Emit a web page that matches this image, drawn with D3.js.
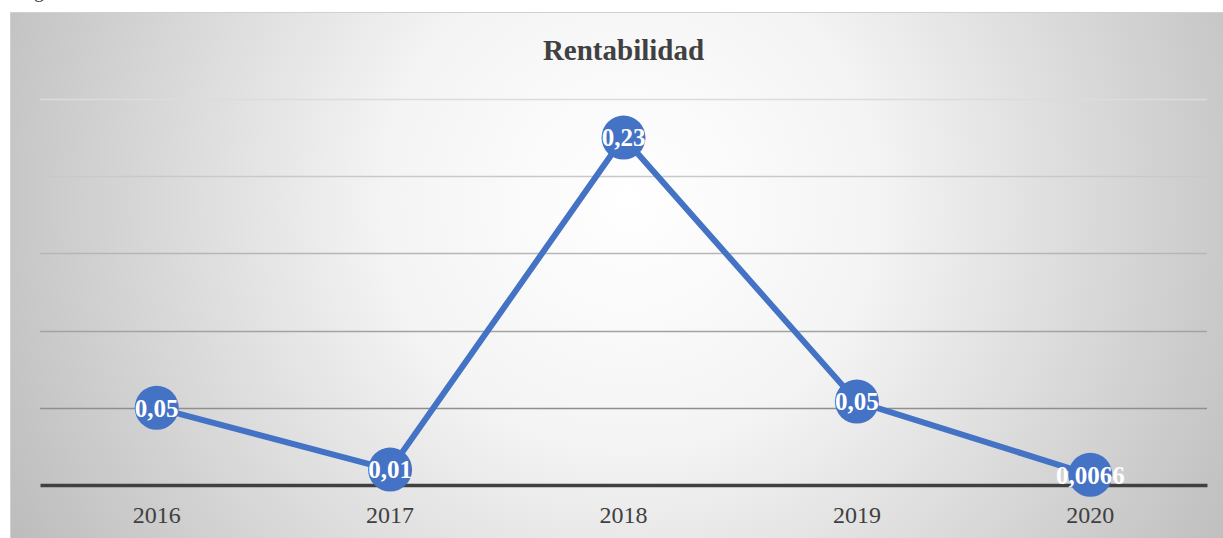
<!DOCTYPE html>
<html><head><meta charset="utf-8">
<script src="https://cdn.jsdelivr.net/npm/d3@7"></script>
<style>html,body{margin:0;padding:0;background:#fff;overflow:hidden}</style>
</head><body>
<svg id="c" width="1223" height="538"></svg>
<script>
const categories = ["2016","2017","2018","2019","2020"];
const values = [0.05, 0.01, 0.225, 0.054, 0.0066];
const labels = ["0,05","0,01","0,23","0,05","0,0066"];
const yTicks = [0, 0.05, 0.10, 0.15, 0.20, 0.25];
const title = "Rentabilidad";

const FONT = "'Liberation Serif', 'Times New Roman', serif";
const svg = d3.select("#c");
const W = 1223, H = 538;
const defs = svg.append("defs");
const rg = defs.append("radialGradient").attr("id","bg")
  .attr("gradientUnits","userSpaceOnUse")
  .attr("cx",630).attr("cy",200).attr("r",700)
  .attr("fx",630).attr("fy",200);
rg.append("stop").attr("offset","0%").attr("stop-color","#ffffff");
rg.append("stop").attr("offset","35%").attr("stop-color","#f4f4f4");
rg.append("stop").attr("offset","100%").attr("stop-color","#bdbdbd");

// partial caption glyph above chart (cut off in the reference too)
svg.append("text").attr("x",34).attr("y",-3)
  .attr("font-family",FONT)
  .attr("font-size",20).attr("fill","#404040").text("g");

svg.append("rect").attr("x",10.5).attr("y",12.5).attr("width",W).attr("height",H)
  .attr("fill","url(#bg)").attr("stroke","#d0d0d0").attr("stroke-width",1);

const m = {left:40, right:16, top:99, bottom:53};
const x = d3.scaleBand().domain(categories).range([m.left, W - m.right]).padding(0);
const y = d3.scaleLinear().domain([0, 0.25]).range([H - m.bottom, m.top]);

const gridColor = d3.scaleLinear().domain([0.25, 0.05]).range(["#dcdcdc","#8f8f8f"]);
svg.append("g").selectAll("line").data(yTicks.filter(d => d > 0)).join("line")
  .attr("x1", m.left).attr("x2", W - m.right)
  .attr("y1", d => Math.round(y(d)) + 0.5).attr("y2", d => Math.round(y(d)) + 0.5)
  .attr("stroke", d => gridColor(d)).attr("stroke-width", 1.5);

// x axis
const xAxis = svg.append("g").attr("transform", `translate(0,${y(0)})`)
  .call(d3.axisBottom(x).tickSize(0).tickPadding(21));
xAxis.select(".domain").attr("stroke","#404040").attr("stroke-width",3.5);
xAxis.selectAll("text").attr("font-family",FONT)
  .attr("font-size",24).attr("fill","#404040");

// title
svg.append("text").attr("x", (m.left + W - m.right)/2).attr("y", 60)
  .attr("text-anchor","middle")
  .attr("font-family",FONT)
  .attr("font-weight","bold").attr("font-size",29).attr("fill","#404040").text(title);

const line = d3.line().x((d,i) => x(categories[i]) + x.bandwidth()/2).y(d => y(d));
svg.append("path").datum(values).attr("d", line)
  .attr("fill","none").attr("stroke","#4472C4").attr("stroke-width",6)
  .attr("stroke-linejoin","round");

const pts = svg.append("g").selectAll("g").data(values).join("g")
  .attr("transform", (d,i) => `translate(${x(categories[i]) + x.bandwidth()/2},${y(d)})`);
pts.append("circle").attr("r",22).attr("fill","#4472C4");
pts.append("text").attr("text-anchor","middle").attr("dy","0.35em")
  .attr("font-family",FONT)
  .attr("font-weight","bold").attr("font-size",25).attr("fill","#ffffff")
  .text((d,i) => labels[i]);
</script>
</body></html>
